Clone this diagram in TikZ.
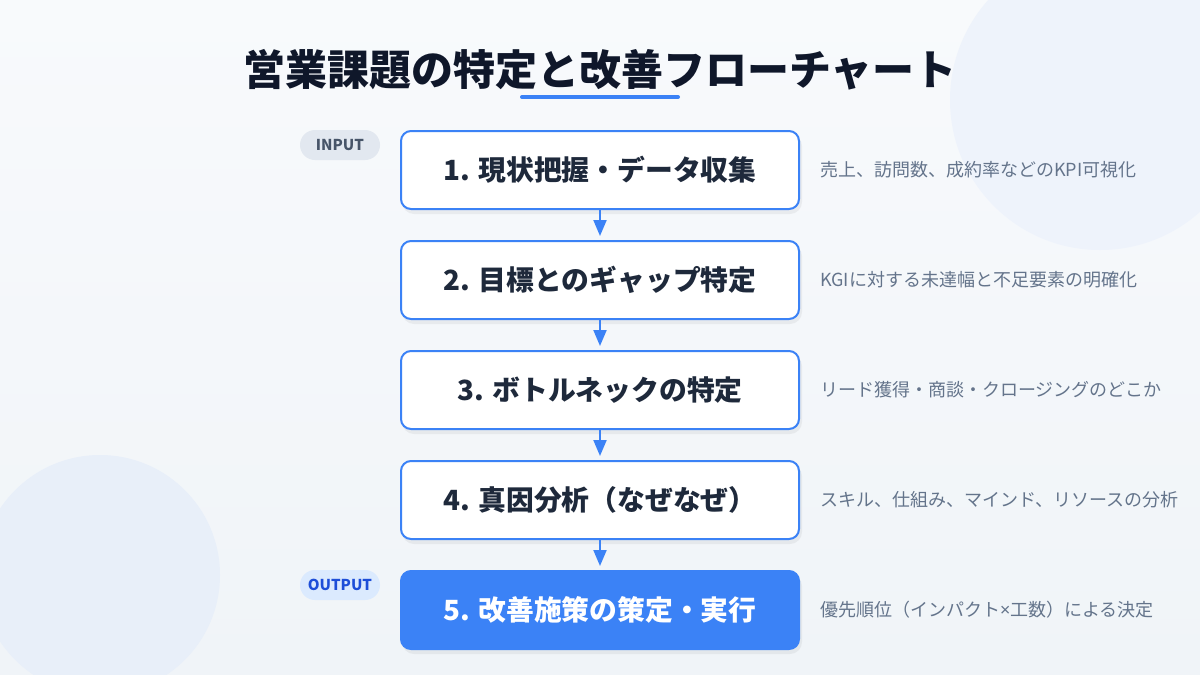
\documentclass[tikz,border=0pt]{standalone}
\usepackage{fontspec}
\setmainfont{Noto Sans CJK JP}
\newfontfamily\latinsans{Noto Sans}
\usetikzlibrary{arrows.meta}
\definecolor{bgtop}{RGB}{248,250,252}
\definecolor{bgbot}{RGB}{240,244,248}
\definecolor{circA}{RGB}{238,243,251}
\definecolor{circB}{RGB}{232,239,249}
\definecolor{accent}{RGB}{59,130,246}
\definecolor{titlecol}{RGB}{15,23,42}
\definecolor{boxtext}{RGB}{30,41,59}
\definecolor{desccol}{RGB}{100,116,139}
\definecolor{pillgray}{RGB}{226,232,240}
\definecolor{pillgraytext}{RGB}{71,85,105}
\definecolor{pillblue}{RGB}{219,234,254}
\definecolor{pillbluetext}{RGB}{29,78,216}
\tikzset{
  stepbox/.style={draw=accent, line width=2pt, fill=white, rounded corners=10pt,
    minimum width=398pt, minimum height=78pt, inner sep=0pt,
    text=boxtext, font=\bfseries\fontsize{27.8}{32}\selectfont},
  finalbox/.style={stepbox, fill=accent, text=white},
  desc/.style={anchor=west, text=desccol, inner sep=0pt, font=\fontsize{18}{22}\selectfont},
  pill/.style={rounded corners=15pt, minimum width=80pt, minimum height=30pt, inner sep=0pt,
    font=\bfseries\fontsize{15}{17}\selectfont},
  flowarrow/.style={draw=accent, line width=2pt, -{Triangle[length=16pt,width=13pt]}, shorten >=4pt},
  shadowbox/.style={fill=black, opacity=0.05, rounded corners=12pt}
}
\begin{document}
\begin{tikzpicture}[x=1pt,y=-1pt]
\useasboundingbox (0,0) rectangle (1200,675);
% background
\shade[top color=bgtop, bottom color=bgbot] (0,0) rectangle (1200,675);
\fill[circA] (1100,100) circle (150);
\fill[circB] (100,575) circle (120);
% title
\node[text=titlecol, font=\bfseries\fontsize{42}{48}\selectfont] (title) at (600,70) {営業課題の特定と改善フローチャート};
\coordinate (ulA) at (522,97);
\coordinate (ulB) at (678,97);
\draw[accent, line width=4pt, line cap=round] (ulA) -- (ulB);
% shadows
\foreach \y in {170,280,390,500,610}{
  \fill[shadowbox] (402,\y-36) rectangle (802,\y+44);
}
% boxes
\node[stepbox] (b1) at (600,170) {1. 現状把握・データ収集};
\node[stepbox] (b2) at (600,280) {2. 目標とのギャップ特定};
\node[stepbox] (b3) at (600,390) {3. ボトルネックの特定};
\node[stepbox] (b4) at (600,500) {4. 真因分析（なぜなぜ）};
\node[finalbox] (b5) at (600,610) {5. 改善施策の策定・実行};
% arrows
\draw[flowarrow] (b1.south) -- (b2.north);
\draw[flowarrow] (b2.south) -- (b3.north);
\draw[flowarrow] (b3.south) -- (b4.north);
\draw[flowarrow] (b4.south) -- (b5.north);
% pills
\node[pill, fill=pillgray, text=pillgraytext] (inp) at (340,145) {INPUT};
\node[pill, fill=pillblue, text=pillbluetext] (outp) at (340,585) {OUTPUT};
% descriptions
\node[desc] (d1) at (820,170) {売上、訪問数、成約率などのKPI可視化};
\node[desc] (d2) at (820,280) {KGIに対する未達幅と不足要素の明確化};
\node[desc] (d3) at (820,390) {リード獲得・商談・クロージングのどこか};
\node[desc] (d4) at (820,500) {スキル、仕組み、マインド、リソースの分析};
\node[desc] (d5) at (820,610) {優先順位（インパクト{\latinsans ×}工数）による決定};
\end{tikzpicture}
\end{document}
